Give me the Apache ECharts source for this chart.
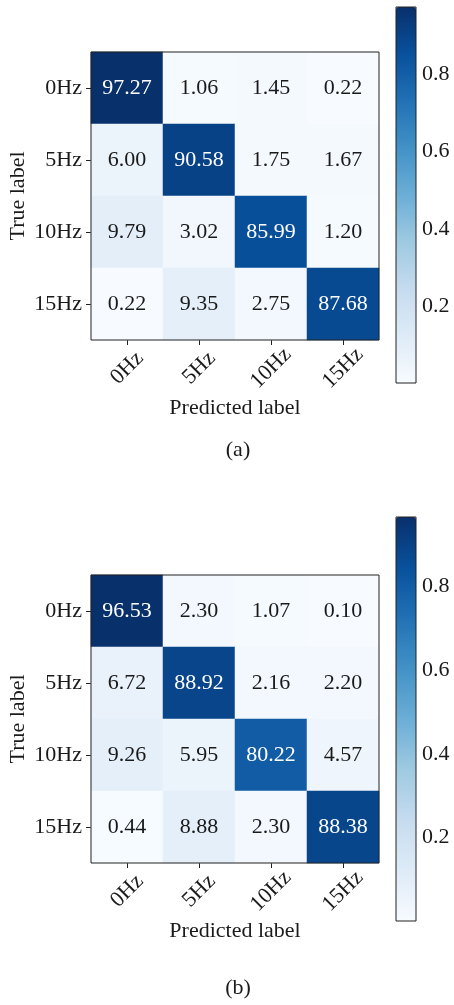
<!DOCTYPE html>
<html>
<head>
<meta charset="utf-8">
<script src="https://cdn.jsdelivr.net/npm/echarts@6/dist/echarts.min.js"></script>
<style>
  html, body { margin: 0; padding: 0; background: #fff; }
  #chart { width: 454px; height: 1005px; }
</style>
</head>
<body>
<div id="chart"></div>
<script>
// Class labels shared by both confusion matrices
const classes = ['0Hz', '5Hz', '10Hz', '15Hz'];

// Row = true label, column = predicted label, in percent
const matrixA = [
  [97.27, 1.06, 1.45, 0.22],
  [6.00, 90.58, 1.75, 1.67],
  [9.79, 3.02, 85.99, 1.20],
  [0.22, 9.35, 2.75, 87.68]
];
const matrixB = [
  [96.53, 2.30, 1.07, 0.10],
  [6.72, 88.92, 2.16, 2.20],
  [9.26, 5.95, 80.22, 4.57],
  [0.44, 8.88, 2.30, 88.38]
];

// Colour bar tick values
const barTicks = [0.2, 0.4, 0.6, 0.8];
const panelLabels = ['(a)', '(b)'];

// Matplotlib "Blues" colour map stops
const blues = ['#f7fbff', '#deebf7', '#c6dbef', '#9ecae1', '#6baed6',
               '#4292c6', '#2171b5', '#08519c', '#08306b'];

const FONT = 'Liberation Serif';
const INK = '#1a1a1a';
const FS = 22;

function heatData(m) {
  const flat = m.flat().map(v => v / 100);
  const lo = Math.min(...flat), hi = Math.max(...flat);
  const thresh = (lo + hi) / 2;
  const data = [];
  m.forEach((row, r) => row.forEach((v, c) => {
    const f = v / 100;
    data.push({ value: [c, r, f], label: { color: f > thresh ? '#ffffff' : INK } });
  }));
  return { data, lo, hi };
}

const panels = [
  { m: matrixA, grid: { left: 91, top: 52, width: 288, height: 288 },
    bar: { left: 396, top: 7, width: 20, height: 376 }, label: { x: 238, y: 450 } },
  { m: matrixB, grid: { left: 91, top: 575, width: 288, height: 288 },
    bar: { left: 396, top: 517, width: 20, height: 404 }, label: { x: 238, y: 988 } }
];

const grids = [], xAxes = [], yAxes = [], series = [], visualMaps = [], graphics = [];

panels.forEach((p, i) => {
  const hd = heatData(p.m);
  const gi = grids.length;
  grids.push(Object.assign({
    show: true, borderColor: '#222', borderWidth: 1, backgroundColor: 'transparent',
    z: 3, containLabel: false, outerBoundsMode: 'none'
  }, p.grid));
  xAxes.push({
    type: 'category', gridIndex: gi, data: classes, position: 'bottom',
    axisLine: { show: false },
    axisTick: { show: true, alignWithLabel: true, length: 5, lineStyle: { color: '#222' } },
    axisLabel: { rotate: 45, align: 'center', verticalAlign: 'middle', margin: 28,
                 fontFamily: FONT, fontSize: FS, color: INK },
    splitLine: { show: false },
    name: 'Predicted label', nameLocation: 'middle', nameGap: 57, nameMoveOverlap: false,
    nameTextStyle: { fontFamily: FONT, fontSize: FS, color: INK }
  });
  yAxes.push({
    type: 'category', gridIndex: gi, data: classes, inverse: true,
    axisLine: { show: false },
    axisTick: { show: true, alignWithLabel: true, length: 5, lineStyle: { color: '#222' } },
    axisLabel: { margin: 9, fontFamily: FONT, fontSize: FS, color: INK },
    splitLine: { show: false },
    name: 'True label', nameLocation: 'middle', nameGap: 62, nameMoveOverlap: false,
    nameTextStyle: { fontFamily: FONT, fontSize: FS, color: INK }
  });
  const si = series.length;
  series.push({
    type: 'heatmap', xAxisIndex: gi, yAxisIndex: gi, data: hd.data,
    label: { show: true, fontFamily: FONT, fontSize: FS,
             formatter: q => (q.value[2] * 100).toFixed(2) },
    itemStyle: { borderWidth: 0 },
    emphasis: { disabled: true }
  });
  visualMaps.push({
    type: 'continuous', seriesIndex: si, min: hd.lo, max: hd.hi,
    inRange: { color: blues }, calculable: false, hoverLink: false,
    orient: 'vertical', left: p.bar.left, top: p.bar.top, padding: 0,
    itemWidth: p.bar.width, itemHeight: p.bar.height, text: null, showLabel: false
  });

  // Colour bar frame and its value axis
  const bi = grids.length;
  grids.push(Object.assign({
    show: true, borderColor: '#222', borderWidth: 1, backgroundColor: 'transparent',
    z: 6, containLabel: false, outerBoundsMode: 'none'
  }, p.bar));
  xAxes.push({ type: 'value', gridIndex: bi, show: false, min: 0, max: 1 });
  yAxes.push({
    type: 'value', gridIndex: bi, position: 'right', min: hd.lo, max: hd.hi,
    axisLine: { show: false }, splitLine: { show: false },
    axisTick: { show: true, length: 4, customValues: barTicks, lineStyle: { color: '#222' } },
    axisLabel: { show: true, customValues: barTicks, margin: 6,
                 formatter: v => v.toFixed(1), fontFamily: FONT, fontSize: FS, color: INK }
  });

  graphics.push({
    type: 'text', x: p.label.x, y: p.label.y,
    style: { text: panelLabels[i], fontFamily: FONT, fontSize: FS, fill: INK,
             align: 'center', verticalAlign: 'middle' }
  });
});

const chart = echarts.init(document.getElementById('chart'), null, { renderer: 'canvas' });
chart.setOption({
  animation: false,
  backgroundColor: '#ffffff',
  grid: grids, xAxis: xAxes, yAxis: yAxes,
  visualMap: visualMaps, series: series, graphic: graphics
});
</script>
</body>
</html>
